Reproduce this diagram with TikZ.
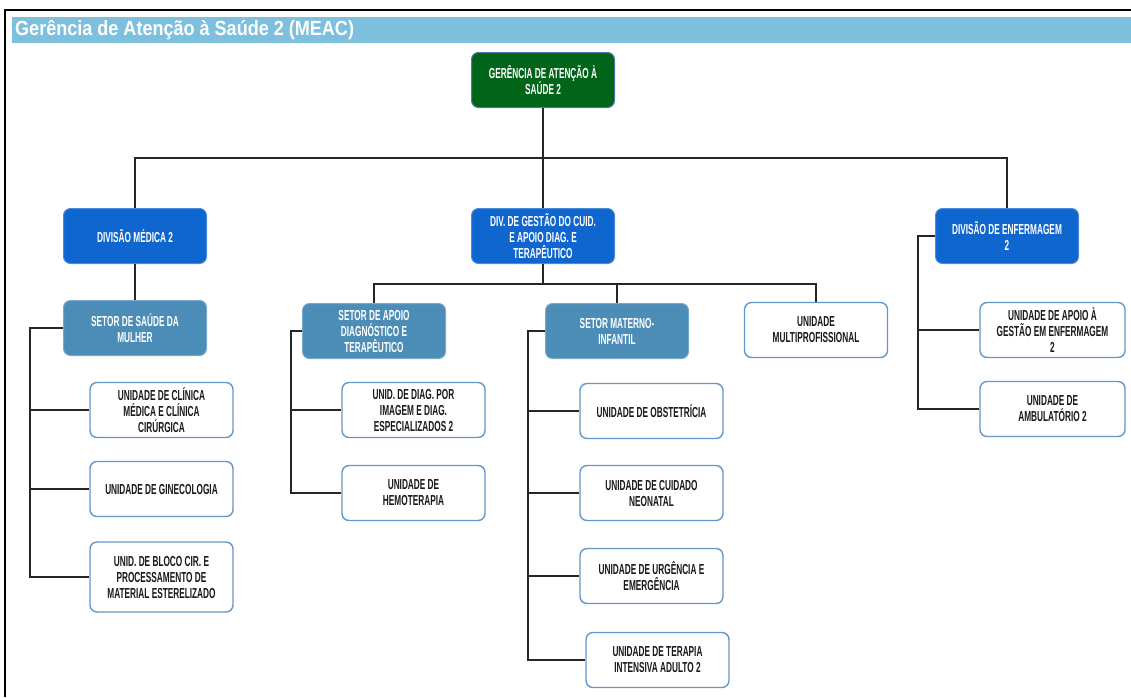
\documentclass[tikz,border=0pt]{standalone}
\usepackage{fontspec}
\setmainfont{Liberation Sans}
\newfontfamily\orgfont[FakeStretch=0.57]{Liberation Sans}
\newfontfamily\titlefont[FakeStretch=0.88]{Liberation Sans}
\usepackage{tikz}
\usetikzlibrary{positioning,calc}
\definecolor{barblue}{RGB}{125,192,222}
\definecolor{gergreen}{RGB}{0,100,25}
\definecolor{gerborder}{RGB}{80,120,160}
\definecolor{divblue}{RGB}{14,102,206}
\definecolor{setblue}{RGB}{76,141,184}
\definecolor{unitborder}{RGB}{100,150,200}

\begin{document}
\begin{tikzpicture}[x=1pt,y=-1pt,
  box/.style={rounded corners=7pt, minimum width=143pt, minimum height=55pt, align=center, inner sep=2pt, font=\orgfont\bfseries\fontsize{14.5}{16}\selectfont},
  gerbox/.style={box, fill=gergreen, draw=gerborder, line width=1pt, text=white},
  divbox/.style={box, fill=divblue, draw=divblue!75!white, line width=1pt, text=white},
  setbox/.style={box, fill=setblue, draw=setblue!75!white, line width=1pt, text=white},
  unitbox/.style={box, fill=white, draw=unitborder, line width=1.4pt, text=black!90},
  link/.style={draw=black!85, line width=1.3pt}]
\useasboundingbox (0,0) rectangle (1131,697);
% frame and title bar
\draw[line width=2.5pt] (5,697) -- (5,10) -- (1131,10);
\fill[barblue] (12,17) rectangle (1131,43);
\node[anchor=west, inner sep=0pt, text=white, font=\titlefont\bfseries\fontsize{20.5}{23}\selectfont] (title) at (15,30) {Gerência de Atenção à Saúde 2 (MEAC)};

% top level
\node[gerbox] (ger) at (543,80) {GERÊNCIA DE ATENÇÃO À\\SAÚDE 2};

% divisions
\node[divbox] (divmed) at (135,236) {DIVISÃO MÉDICA 2};
\node[divbox] (divgest) at (543,236) {DIV. DE GESTÃO DO CUID.\\E APOIO DIAG. E\\TERAPÊUTICO};
\node[divbox] (divenf) at (1007,236) {DIVISÃO DE ENFERMAGEM\\2};

% sectors
\node[setbox] (setmul) at (135,328) {SETOR DE SAÚDE DA\\MULHER};
\node[setbox] (setapo) at (374,331) {SETOR DE APOIO\\DIAGNÓSTICO E\\TERAPÊUTICO};
\node[setbox] (setmat) at (617,331) {SETOR MATERNO-\\INFANTIL};
\node[unitbox] (umulti) at (816,330) {UNIDADE\\MULTIPROFISSIONAL};

% units
\node[unitbox] (uclin) at (161.5,410) {UNIDADE DE CLÍNICA\\MÉDICA E CLÍNICA\\CIRÚRGICA};
\node[unitbox] (ugine) at (161.5,489) {UNIDADE DE GINECOLOGIA};
\node[unitbox, minimum height=70pt] (ubloco) at (161.5,577) {UNID. DE BLOCO CIR. E\\PROCESSAMENTO DE\\MATERIAL ESTERELIZADO};
\node[unitbox] (uimag) at (413.5,410) {UNID. DE DIAG. POR\\IMAGEM E DIAG.\\ESPECIALIZADOS 2};
\node[unitbox] (uhemo) at (413.5,493) {UNIDADE DE\\HEMOTERAPIA};
\node[unitbox] (uobst) at (651.5,411) {UNIDADE DE OBSTETRÍCIA};
\node[unitbox] (uneo) at (651.5,493) {UNIDADE DE CUIDADO\\NEONATAL};
\node[unitbox] (uurg) at (651.5,576) {UNIDADE DE URGÊNCIA E\\EMERGÊNCIA};
\node[unitbox] (uuti) at (657.5,660) {UNIDADE DE TERAPIA\\INTENSIVA ADULTO 2};
\node[unitbox, minimum width=145pt] (ugenf) at (1052.5,330) {UNIDADE DE APOIO À\\GESTÃO EM ENFERMAGEM\\2};
\node[unitbox, minimum width=145pt] (uamb) at (1052.5,409) {UNIDADE DE\\AMBULATÓRIO 2};

% buses
\coordinate (busA) at (543,158);
\coordinate (busB) at (543,284);
\coordinate (mulL) at (30,328);
\coordinate (apoL) at (291,331);
\coordinate (matL) at (528,331);
\coordinate (enfL) at (918,236);

\draw[link] (ger) -- (divgest);
\draw[link] (divmed.north) |- (busA) -| (divenf.north);
\draw[link] (divmed) -- (setmul);
\draw[link] (divgest.south) -- (busB);
\draw[link] (setapo.north) |- (busB) -| (umulti.north);
\draw[link] (busB -| setmat.north) -- (setmat.north);

\draw[link] (setmul.west) -- (mulL) |- (ubloco.west);
\foreach \u in {uclin,ugine}
  \draw[link] (mulL |- \u.west) -- (\u.west);
\draw[link] (setapo.west) -- (apoL) |- (uhemo.west);
\draw[link] (apoL |- uimag.west) -- (uimag.west);
\draw[link] (setmat.west) -- (matL) |- (uuti.west);
\foreach \u in {uobst,uneo,uurg}
  \draw[link] (matL |- \u.west) -- (\u.west);
\draw[link] (divenf.west) -- (enfL) |- (uamb.west);
\draw[link] (enfL |- ugenf.west) -- (ugenf.west);
\end{tikzpicture}
\end{document}
